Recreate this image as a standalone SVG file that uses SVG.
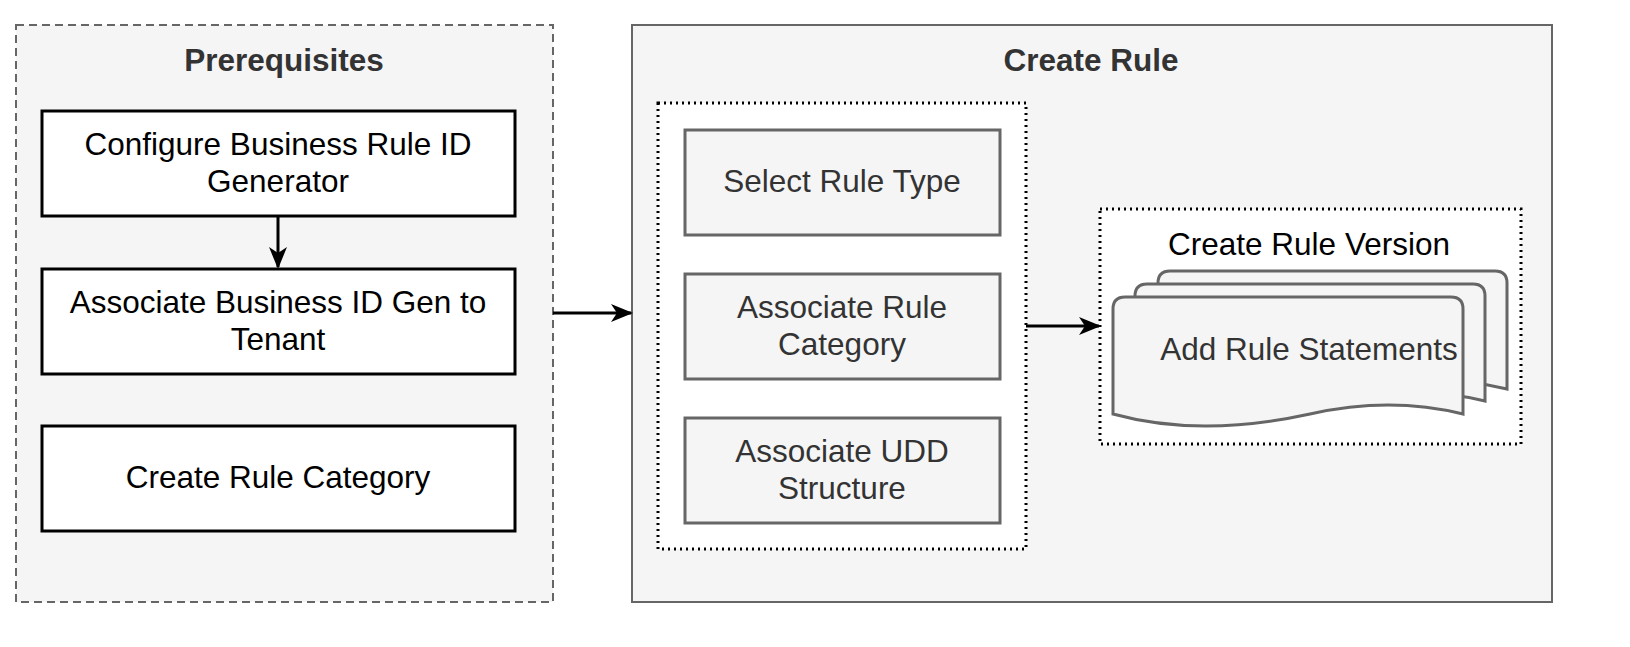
<svg xmlns="http://www.w3.org/2000/svg" width="1630" height="647" viewBox="0 0 1630 647">
<defs>
<style>
text{font-family:"Liberation Sans",Arial,sans-serif;font-size:31.5px;text-anchor:middle}
.b{font-weight:bold;fill:#333}
.w{fill:#fff;stroke:#000;stroke-width:3}
.g{fill:#f5f5f5;stroke:#666;stroke-width:3}
.gt{fill:#333}
.c{stroke:#000;stroke-width:3;fill:none}
</style>
<marker id="a" markerWidth="22" markerHeight="20" refX="20" refY="10" orient="auto" markerUnits="userSpaceOnUse" viewBox="0 0 22 20"><path d="M0,1L22,10L0,19L6,10z" fill="#000"/></marker>
</defs>
<rect width="1630" height="647" fill="#fff"/>
<g id="prereq"><rect x="16" y="25" width="537" height="577" fill="#f5f5f5" stroke="#666" stroke-width="2" stroke-dasharray="8 5"/><text x="284" y="71" class="b">Prerequisites</text></g>
<g id="createRule"><rect x="632" y="25" width="920" height="577" fill="#f5f5f5" stroke="#666" stroke-width="2"/><text x="1091" y="71" class="b">Create Rule</text></g>
<g id="n1"><rect class="w" x="42" y="111" width="473" height="105"/><text x="278" y="155">Configure Business Rule ID</text><text x="278" y="192">Generator</text></g>
<g id="n2"><rect class="w" x="42" y="269" width="473" height="105"/><text x="278" y="313">Associate Business ID Gen to</text><text x="278" y="350">Tenant</text></g>
<g id="n3"><rect class="w" x="42" y="426" width="473" height="105"/><text x="278" y="488">Create Rule Category</text></g>
<g id="group1"><rect x="658" y="103" width="368" height="446" fill="#fff" stroke="#000" stroke-width="3" stroke-dasharray="2 4"/></g>
<g id="s1"><rect class="g" x="685" y="130" width="315" height="105"/><text class="gt" x="842" y="192">Select Rule Type</text></g>
<g id="s2"><rect class="g" x="685" y="274" width="315" height="105"/><text class="gt" x="842" y="318">Associate Rule</text><text class="gt" x="842" y="355">Category</text></g>
<g id="s3"><rect class="g" x="685" y="418" width="315" height="105"/><text class="gt" x="842" y="462">Associate UDD</text><text class="gt" x="842" y="499">Structure</text></g>
<g id="group2"><rect x="1100" y="209" width="421" height="235" fill="#fff" stroke="#000" stroke-width="3" stroke-dasharray="2 4"/><text x="1309" y="255">Create Rule Version</text></g>
<g id="docs">
<path class="g" d="M1158,283 Q1158,271 1170,271 L1495,271 Q1507,271 1507,283 L1507,389 Q1430,370 1350,390 Q1250,412 1158,390 Z"/>
<path class="g" d="M1135,296 Q1135,284 1147,284 L1473,284 Q1485,284 1485,296 L1485,401 Q1410,383 1330,402 Q1230,425 1135,402 Z"/>
<path class="g" d="M1113,309 Q1113,297 1125,297 L1451,297 Q1463,297 1463,309 L1463,414 Q1390,396 1310,414 Q1200,438 1113,414 Z"/>
<text class="gt" x="1309" y="360">Add Rule Statements</text>
</g>
<g id="connectors">
<path class="c" d="M278,216V267" marker-end="url(#a)"/>
<path class="c" d="M553,313H631" marker-end="url(#a)"/>
<path class="c" d="M1026,326H1099" marker-end="url(#a)"/>
</g>
</svg>
